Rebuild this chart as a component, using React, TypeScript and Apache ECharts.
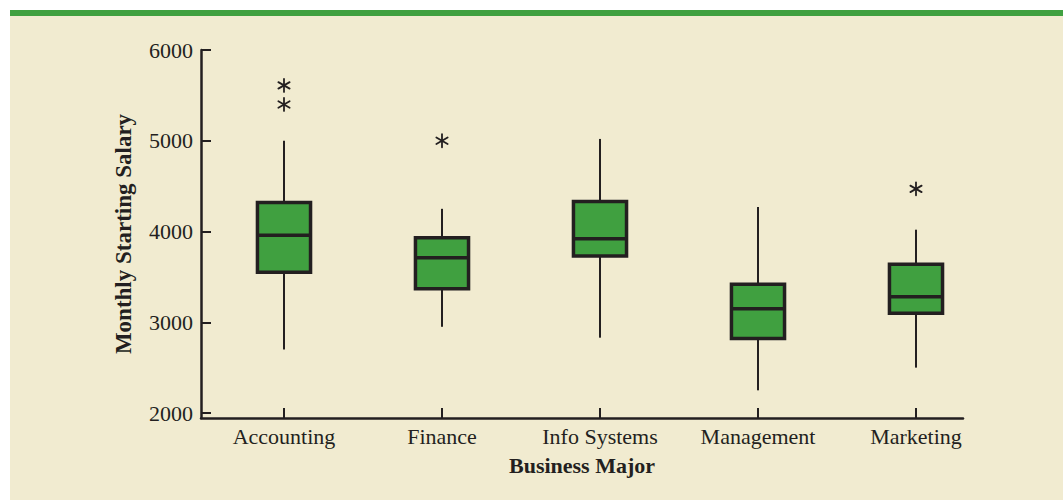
import React, { useEffect, useRef } from "react";
import * as echarts from "echarts";

const categories = ["Accounting", "Finance", "Info Systems", "Management", "Marketing"];
const lowWhisker = [2700, 2950, 2830, 2250, 2500];
const q1 = [3550, 3370, 3730, 2820, 3100];
const median = [3960, 3710, 3920, 3150, 3280];
const q3 = [4320, 3930, 4330, 3420, 3640];
const highWhisker = [5000, 4250, 5020, 4270, 4020];
const outlierCategory = [0, 0, 1, 4];
const outlierValue = [5610, 5400, 5000, 4470];
const yTicks = [2000, 3000, 4000, 5000, 6000];

const INK = "#231f20";
const GREEN = "#40a040";
const BEIGE = "#f1ebd0";
const FONT = "'Liberation Serif', 'Times New Roman', serif";

export default function App() {
  const ref = useRef<HTMLDivElement>(null);
  useEffect(() => {
    document.body.style.margin = "0";
    document.body.style.overflow = "hidden";
    const chart = echarts.init(ref.current!, null, { renderer: "svg" });
    const boxData = categories.map((_, i) => [i, lowWhisker[i], q1[i], median[i], q3[i], highWhisker[i]]);
    const outData = outlierCategory.map((c, i) => [c, outlierValue[i]]);
    chart.setOption({
      animation: false,
      backgroundColor: BEIGE,
      graphic: [
        { type: "rect", left: 0, top: 0, shape: { width: 1053, height: 6 }, style: { fill: GREEN }, silent: true },
      ],
      grid: { left: 191, right: 100, top: 40, bottom: 82 },
      xAxis: {
        type: "value",
        min: -0.5253,
        max: 4.2975,
        splitLine: { show: false },
        axisLine: { show: true, onZero: false, lineStyle: { color: INK, width: 2.5 } },
        axisTick: { show: true, inside: true, length: 10, customValues: categories.map((_, i) => i), lineStyle: { color: INK, width: 2 } },
        axisLabel: {
          customValues: categories.map((_, i) => i),
          formatter: (v: number) => categories[Math.round(v)],
          fontSize: 22,
          fontFamily: FONT,
          color: INK,
          margin: 7,
        },
        name: "Business Major",
        nameLocation: "middle",
        nameGap: 36,
        nameTextStyle: { fontSize: 22, fontWeight: "bold", fontFamily: FONT, color: INK },
      },
      yAxis: {
        type: "value",
        min: 1945,
        max: 6000,
        splitLine: { show: false },
        axisLine: { show: true, onZero: false, lineStyle: { color: INK, width: 2.5 } },
        axisTick: { show: true, inside: true, length: 10, customValues: yTicks, lineStyle: { color: INK, width: 2 } },
        axisLabel: {
          customValues: yTicks,
          formatter: (v: number) => String(v),
          fontSize: 22,
          fontFamily: FONT,
          color: INK,
          margin: 8,
        },
        name: "Monthly Starting Salary",
        nameLocation: "middle",
        nameGap: 66,
        nameTextStyle: { fontSize: 23, fontWeight: "bold", fontFamily: FONT, color: INK },
      },
      series: [
        {
          type: "custom",
          data: boxData,
          encode: { x: 0, y: [1, 2, 3, 4, 5] },
          renderItem: (params: any, api: any) => {
            const x = api.value(0);
            const lo = api.coord([x, api.value(1)]);
            const b1 = api.coord([x, api.value(2)]);
            const md = api.coord([x, api.value(3)]);
            const b3 = api.coord([x, api.value(4)]);
            const hi = api.coord([x, api.value(5)]);
            const halfW = api.size([1, 0])[0] * 0.168;
            return {
              type: "group",
              children: [
                { type: "line", shape: { x1: lo[0], y1: lo[1], x2: hi[0], y2: hi[1] }, style: { stroke: INK, lineWidth: 2 } },
                {
                  type: "rect",
                  shape: { x: b1[0] - halfW, y: b3[1], width: halfW * 2, height: b1[1] - b3[1] },
                  style: { fill: GREEN, stroke: INK, lineWidth: 3.5 },
                },
                { type: "line", shape: { x1: md[0] - halfW, y1: md[1], x2: md[0] + halfW, y2: md[1] }, style: { stroke: INK, lineWidth: 3.5 } },
              ],
            };
          },
        },
        {
          type: "custom",
          data: outData,
          encode: { x: 0, y: 1 },
          renderItem: (params: any, api: any) => {
            const p = api.coord([api.value(0), api.value(1)]);
            const r = 6.5;
            const spokes = [90, 30, 150].map((deg) => {
              const a = (deg * Math.PI) / 180;
              return {
                type: "line",
                shape: { x1: p[0] - r * Math.cos(a), y1: p[1] - r * Math.sin(a), x2: p[0] + r * Math.cos(a), y2: p[1] + r * Math.sin(a) },
                style: { stroke: INK, lineWidth: 1.8, lineCap: "round" },
              };
            });
            return { type: "group", children: spokes };
          },
        },
      ],
    });
    return () => chart.dispose();
  }, []);
  return (
    <div style={{ position: "relative", width: 1063, height: 500, background: "#ffffff" }}>
      <div ref={ref} style={{ position: "absolute", left: 10, top: 10, width: 1053, height: 490 }} />
    </div>
  );
}
